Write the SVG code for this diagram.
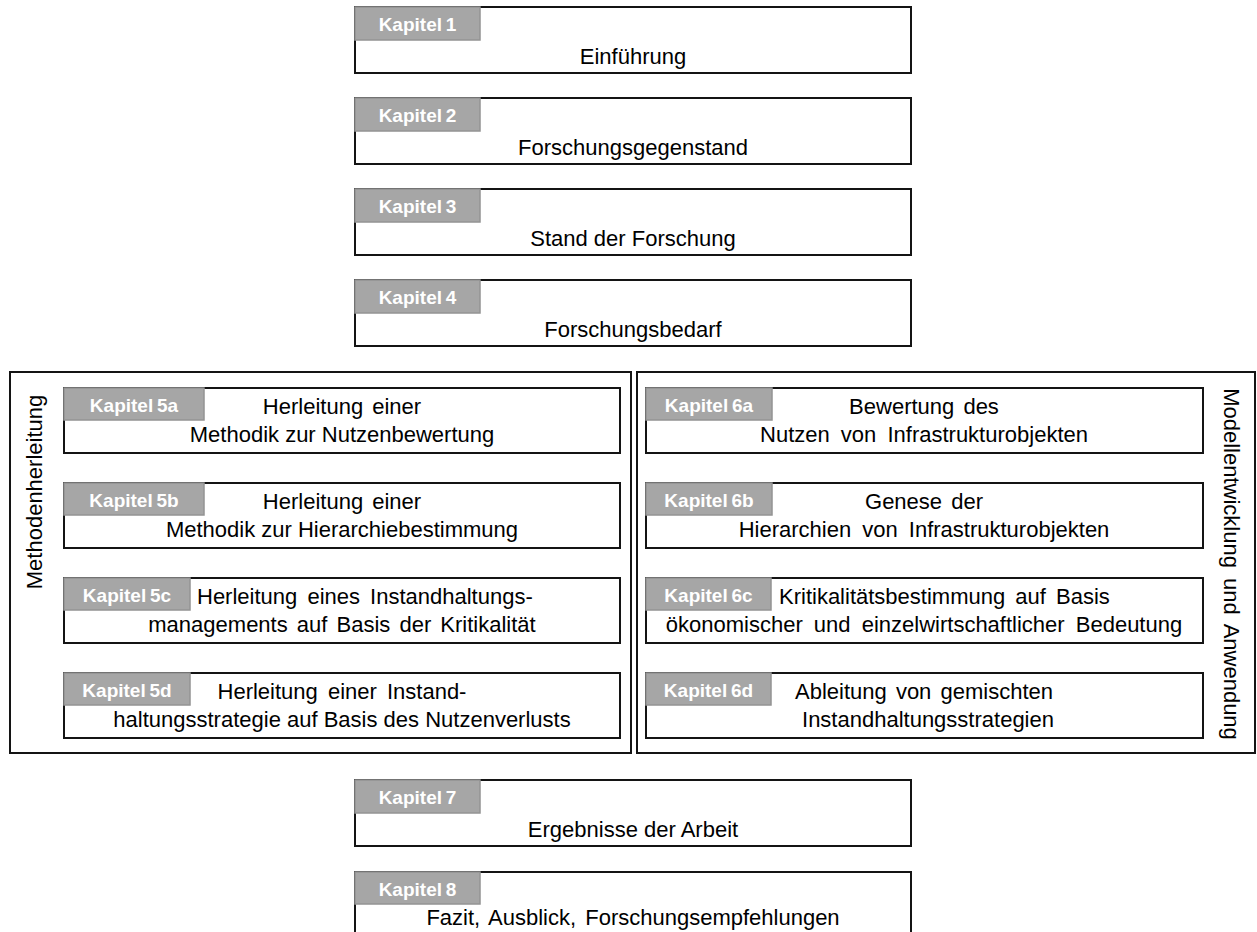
<svg xmlns="http://www.w3.org/2000/svg" width="1257" height="932" viewBox="0 0 1257 932">
  <style>
    .box { fill: #ffffff; stroke: #141414; stroke-width: 2; }
    .frame { fill: none; stroke: #141414; stroke-width: 2; }
    .tag { fill: #a6a6a6; stroke: #939393; stroke-width: 1.5; }
    .tagtxt { font-family: "Liberation Sans", Arial, sans-serif; font-weight: bold; font-size: 19px; fill: #ffffff; text-anchor: middle; word-spacing: -1.5px; }
    .t { font-family: "Liberation Sans", Arial, sans-serif; font-size: 22px; fill: #000000; text-anchor: middle; }
    .tl { font-family: "Liberation Sans", Arial, sans-serif; font-size: 22px; fill: #000000; }
    .side { font-family: "Liberation Sans", Arial, sans-serif; font-size: 22px; fill: #000000; text-anchor: middle; }
  </style>

  <rect fill="#ffffff" x="0" y="0" width="1257" height="932"/>

  <!-- Group frames -->
  <g id="group-methoden">
    <rect class="frame" x="10" y="372" width="621" height="381"/>
    <text class="side" transform="translate(42,492) rotate(-90)">Methodenherleitung</text>
  </g>
  <g id="group-modell">
    <rect class="frame" x="637" y="372" width="618" height="381"/>
    <text class="side" transform="translate(1224,564) rotate(90)" word-spacing="4">Modellentwicklung und Anwendung</text>
  </g>

  <!-- Linear chapters -->
  <g id="kapitel-1">
    <rect class="box" x="355" y="7" width="556" height="66"/>
    <rect class="tag" x="355" y="7" width="125" height="33"/>
    <text class="tagtxt" x="417.5" y="31">Kapitel 1</text>
    <text class="t" x="633" y="64">Einführung</text>
  </g>
  <g id="kapitel-2">
    <rect class="box" x="355" y="98" width="556" height="66"/>
    <rect class="tag" x="355" y="98" width="125" height="33"/>
    <text class="tagtxt" x="417.5" y="122">Kapitel 2</text>
    <text class="t" x="633" y="155">Forschungsgegenstand</text>
  </g>
  <g id="kapitel-3">
    <rect class="box" x="355" y="189" width="556" height="66"/>
    <rect class="tag" x="355" y="189" width="125" height="33"/>
    <text class="tagtxt" x="417.5" y="213">Kapitel 3</text>
    <text class="t" x="633" y="246">Stand der Forschung</text>
  </g>
  <g id="kapitel-4">
    <rect class="box" x="355" y="280" width="556" height="66"/>
    <rect class="tag" x="355" y="280" width="125" height="33"/>
    <text class="tagtxt" x="417.5" y="304">Kapitel 4</text>
    <text class="t" x="633" y="337">Forschungsbedarf</text>
  </g>

  <!-- Chapter 5: method derivation -->
  <g id="kapitel-5a">
    <rect class="box" x="64" y="388" width="556" height="65"/>
    <rect class="tag" x="64" y="388" width="140" height="32"/>
    <text class="tagtxt" x="134" y="412">Kapitel 5a</text>
    <text class="t" x="342" y="414" word-spacing="3">Herleitung einer</text>
    <text class="t" x="342" y="442">Methodik zur Nutzenbewertung</text>
  </g>
  <g id="kapitel-5b">
    <rect class="box" x="64" y="483" width="556" height="65"/>
    <rect class="tag" x="64" y="483" width="140" height="32"/>
    <text class="tagtxt" x="134" y="507">Kapitel 5b</text>
    <text class="t" x="342" y="509" word-spacing="3">Herleitung einer</text>
    <text class="t" x="342" y="537">Methodik zur Hierarchiebestimmung</text>
  </g>
  <g id="kapitel-5c">
    <rect class="box" x="64" y="578" width="556" height="65"/>
    <rect class="tag" x="64" y="578" width="126" height="32"/>
    <text class="tagtxt" x="127" y="602">Kapitel 5c</text>
    <text class="tl" x="197" y="604" word-spacing="4">Herleitung eines Instandhaltungs-</text>
    <text class="t" x="342" y="632" word-spacing="3">managements auf Basis der Kritikalität</text>
  </g>
  <g id="kapitel-5d">
    <rect class="box" x="64" y="673" width="556" height="65"/>
    <rect class="tag" x="64" y="673" width="126" height="32"/>
    <text class="tagtxt" x="127" y="697">Kapitel 5d</text>
    <text class="t" x="342" y="699" word-spacing="4">Herleitung einer Instand-</text>
    <text class="t" x="342" y="727">haltungsstrategie auf Basis des Nutzenverlusts</text>
  </g>

  <!-- Chapter 6: model development and application -->
  <g id="kapitel-6a">
    <rect class="box" x="646" y="388" width="557" height="65"/>
    <rect class="tag" x="646" y="388" width="126" height="32"/>
    <text class="tagtxt" x="709" y="412">Kapitel 6a</text>
    <text class="t" x="924" y="414" word-spacing="3">Bewertung des</text>
    <text class="t" x="924" y="442" word-spacing="5">Nutzen von Infrastrukturobjekten</text>
  </g>
  <g id="kapitel-6b">
    <rect class="box" x="646" y="483" width="557" height="65"/>
    <rect class="tag" x="646" y="483" width="126" height="32"/>
    <text class="tagtxt" x="709" y="507">Kapitel 6b</text>
    <text class="t" x="924" y="509" word-spacing="3">Genese der</text>
    <text class="t" x="924" y="537" word-spacing="5">Hierarchien von Infrastrukturobjekten</text>
  </g>
  <g id="kapitel-6c">
    <rect class="box" x="646" y="578" width="557" height="65"/>
    <rect class="tag" x="646" y="578" width="125" height="32"/>
    <text class="tagtxt" x="708.5" y="602">Kapitel 6c</text>
    <text class="tl" x="779" y="604" word-spacing="4">Kritikalitätsbestimmung auf Basis</text>
    <text class="t" x="924" y="632" word-spacing="5">ökonomischer und einzelwirtschaftlicher Bedeutung</text>
  </g>
  <g id="kapitel-6d">
    <rect class="box" x="646" y="673" width="557" height="65"/>
    <rect class="tag" x="646" y="673" width="125" height="32"/>
    <text class="tagtxt" x="708.5" y="697">Kapitel 6d</text>
    <text class="t" x="924" y="699" word-spacing="3">Ableitung von gemischten</text>
    <text class="t" x="928" y="727">Instandhaltungsstrategien</text>
  </g>

  <!-- Closing chapters -->
  <g id="kapitel-7">
    <rect class="box" x="355" y="780" width="556" height="66"/>
    <rect class="tag" x="355" y="780" width="125" height="33"/>
    <text class="tagtxt" x="417.5" y="804">Kapitel 7</text>
    <text class="t" x="633" y="837">Ergebnisse der Arbeit</text>
  </g>
  <g id="kapitel-8">
    <rect class="box" x="355" y="872" width="556" height="66"/>
    <rect class="tag" x="355" y="872" width="125" height="32"/>
    <text class="tagtxt" x="417.5" y="896">Kapitel 8</text>
    <text class="t" x="633" y="925" word-spacing="3">Fazit, Ausblick, Forschungsempfehlungen</text>
  </g>
</svg>
